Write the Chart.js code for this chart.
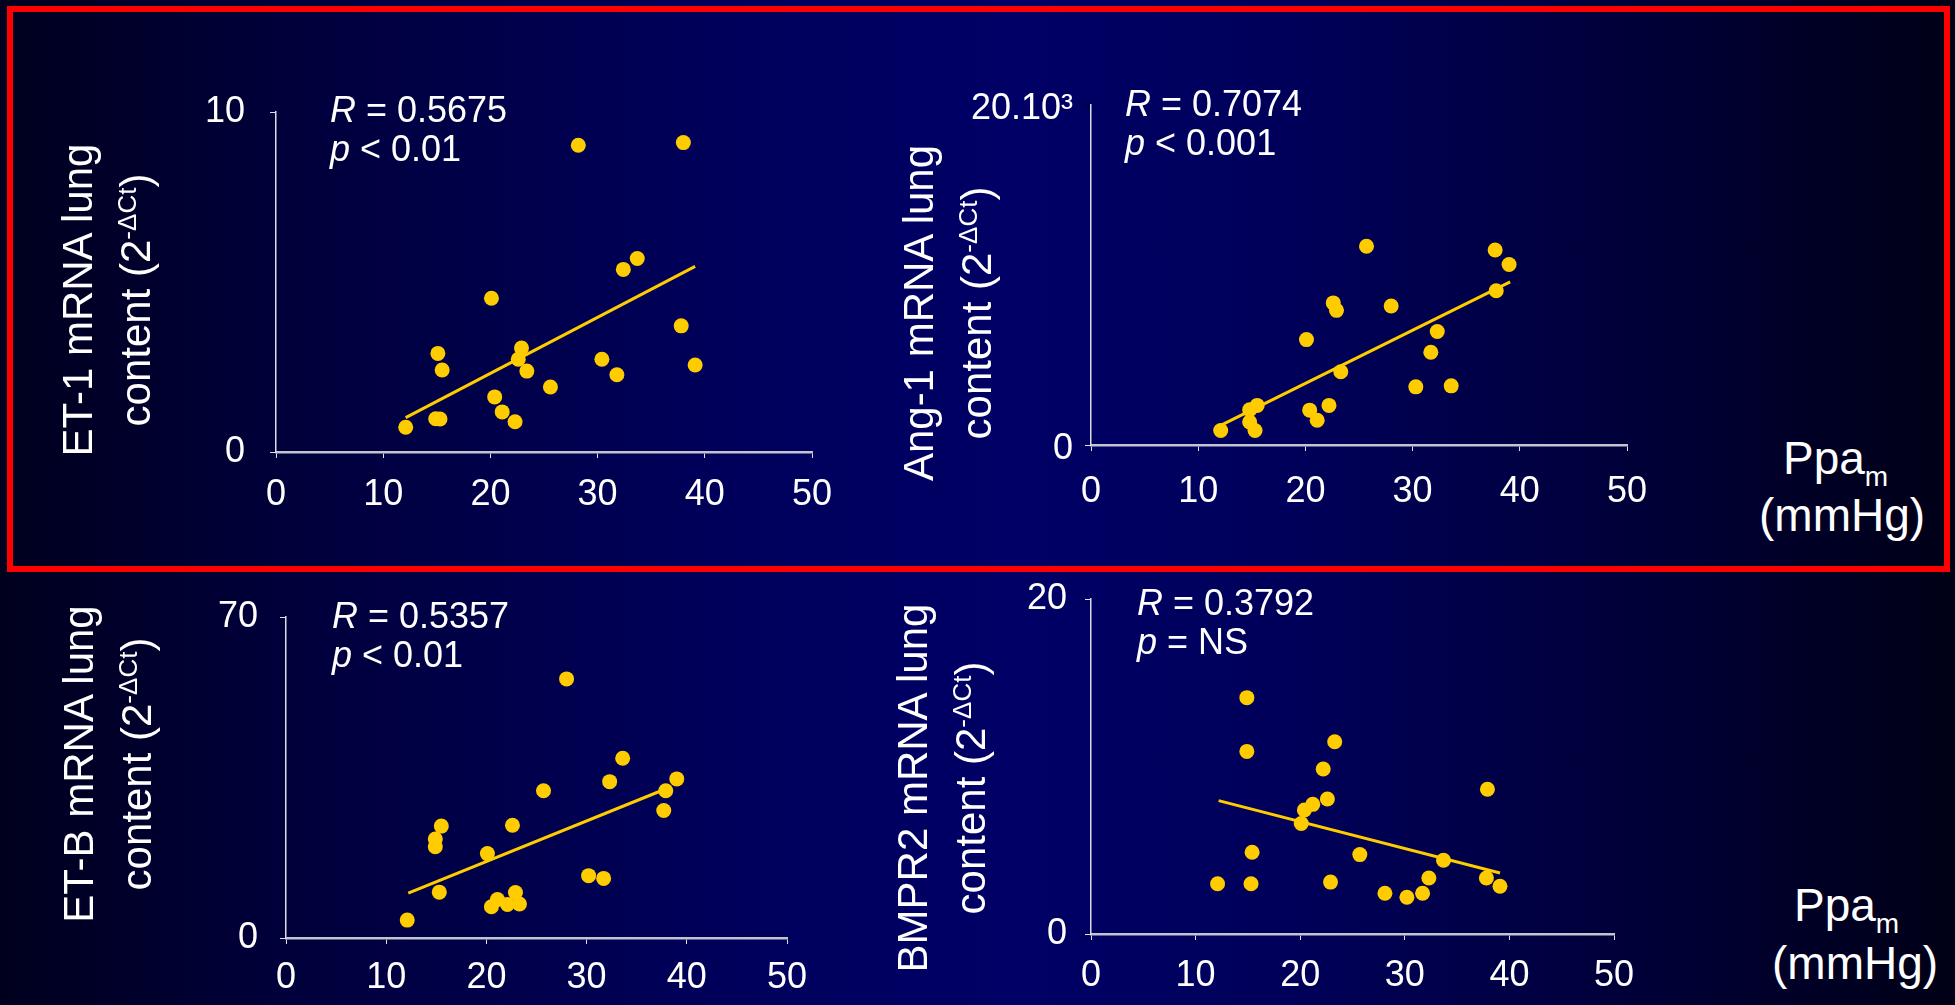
<!DOCTYPE html>
<html>
<head>
<meta charset="utf-8">
<title>mRNA lung content vs Ppam</title>
<script src="https://cdn.jsdelivr.net/npm/chart.js@4.4.1/dist/chart.umd.min.js"></script>
<style>
  html, body { margin: 0; padding: 0; }
  body {
    width: 1955px; height: 1005px; overflow: hidden; position: relative;
    background: linear-gradient(to right, #00001e 0%, #00003a 14%, #00005c 38%, #000066 52%, #00005a 66%, #000034 86%, #000016 100%);
    font-family: Arial, "Liberation Sans", sans-serif; color: #fff;
  }
  canvas { position: absolute; }
  .frame {
    position: absolute; left: 7px; top: 6px; width: 1943px; height: 566px;
    box-sizing: border-box; border: 6px solid #ff0000;
  }
  .ytitle {
    position: absolute; width: 460px; height: 116px;
    font-size: 42px; line-height: 58px; text-align: center; white-space: nowrap;
    transform: rotate(-90deg); transform-origin: 50% 50%;
  }
  .ytitle sup { font-size: 26px; vertical-align: 14px; line-height: 0; }
  .stats { position: absolute; font-size: 36px; line-height: 39px; white-space: nowrap; }
  .unit { position: absolute; font-size: 46px; line-height: 46px; white-space: nowrap; }
  .unit sub { font-size: 28px; vertical-align: -12px; line-height: 0; }
</style>
</head>
<body>
<div class="frame"></div>

<canvas id="et1Chart"></canvas>
<canvas id="ang1Chart"></canvas>
<canvas id="etbChart"></canvas>
<canvas id="bmpr2Chart"></canvas>

<div class="ytitle" style="left:-123px; top:242px;">ET-1 mRNA lung<br>content (2<sup>-&Delta;Ct</sup>)</div>
<div class="ytitle" style="left:718px; top:255px;">Ang-1 mRNA lung<br>content (2<sup>-&Delta;Ct</sup>)</div>
<div class="ytitle" style="left:-122px; top:706px;">ET-B mRNA lung<br>content (2<sup>-&Delta;Ct</sup>)</div>
<div class="ytitle" style="left:712px; top:730px;">BMPR2 mRNA lung<br>content (2<sup>-&Delta;Ct</sup>)</div>

<div class="stats" style="left:330px; top:90px;"><i>R</i> = 0.5675<br><i>p</i> &lt; 0.01</div>
<div class="stats" style="left:1125px; top:84px;"><i>R</i> = 0.7074<br><i>p</i> &lt; 0.001</div>
<div class="stats" style="left:332px; top:596px;"><i>R</i> = 0.5357<br><i>p</i> &lt; 0.01</div>
<div class="stats" style="left:1137px; top:583px;"><i>R</i> = 0.3792<br><i>p</i> = NS</div>

<div class="unit" style="left:1783px; top:435px;">Ppa<sub>m</sub></div>
<div class="unit" style="left:1759px; top:492px;">(mmHg)</div>
<div class="unit" style="left:1794px; top:882px;">Ppa<sub>m</sub></div>
<div class="unit" style="left:1772px; top:940px;">(mmHg)</div>

<script>
// Ppam (mmHg) on x, mRNA content on y, one array pair per panel
const xTicks = [0, 10, 20, 30, 40, 50];

const et1Ppa = [12.1, 14.9, 15.1, 15.3, 15.5, 20.1, 20.4, 21.1, 22.3, 22.6, 22.9, 23.4, 25.6, 28.2, 30.4, 31.8, 32.4, 33.7, 37.8, 38.0, 39.1];
const et1Values = [0.73, 0.98, 2.90, 0.97, 2.41, 4.52, 1.62, 1.18, 0.89, 2.73, 3.06, 2.38, 1.91, 9.02, 2.73, 2.27, 5.37, 5.69, 3.71, 9.10, 2.56];
const et1TrendX = [12.1, 39.1];
const et1TrendY = [1.01, 5.46];

const ang1Ppa = [12.1, 14.8, 14.8, 15.3, 15.5, 20.1, 20.4, 21.1, 22.2, 22.6, 22.9, 23.3, 25.7, 28.0, 30.3, 31.7, 32.3, 33.6, 37.7, 37.8, 39.0];
const ang1Values = [850, 2070, 1350, 850, 2330, 6200, 2050, 1460, 2330, 8360, 7920, 4310, 11690, 8180, 3420, 5460, 6680, 3480, 11470, 9070, 10620];
const ang1TrendX = [12.1, 39.1];
const ang1TrendY = [1150, 9600];

const etbPpa = [12.1, 14.9, 14.9, 15.3, 15.5, 20.1, 20.5, 21.1, 22.1, 22.6, 22.9, 23.3, 25.7, 28.0, 30.2, 31.7, 32.3, 33.6, 37.7, 37.9, 39.0];
const etbValues = [3.9, 21.6, 19.9, 10.0, 24.4, 18.4, 6.8, 8.4, 7.3, 24.6, 9.9, 7.4, 32.1, 56.5, 13.6, 13.0, 34.1, 39.2, 27.8, 32.1, 34.7];
const etbTrendX = [12.2, 38.0];
const etbTrendY = [9.8, 32.6];

const bmpr2Ppa = [12.1, 14.9, 14.9, 15.3, 15.4, 20.1, 20.4, 21.2, 22.2, 22.6, 22.9, 23.3, 25.7, 28.1, 30.2, 31.7, 32.3, 33.7, 37.8, 37.9, 39.1];
const bmpr2Values = [3.0, 14.11, 10.9, 3.0, 4.88, 6.6, 7.4, 7.74, 9.85, 8.06, 3.1, 11.48, 4.74, 2.43, 2.19, 2.43, 3.34, 4.4, 3.34, 8.64, 2.85];
const bmpr2TrendX = [12.2, 39.1];
const bmpr2TrendY = [7.96, 3.64];

const yMaxEt1 = 10;
const yMaxAng1 = 20000;
const yMaxEtb = 70;
const yMaxBmpr2 = 20;

const DOT = '#FFCC00';
const FONT = 'Arial, "Liberation Sans", sans-serif';

// space kept around each plot area inside its canvas
// (top/right must stay larger than the scales' own label padding)
const Y_W = 120;
const X_H = 80;
const PAD_T = 70;
const PAD_R = 60;

function toPoints(xs, ys) {
    return xs.map((x, i) => ({ x: x, y: ys[i] }));
}

function makeChart(id, area, ppa, values, trendX, trendY, yMax, opts) {
    const canvas = document.getElementById(id);
    const w = Y_W + (area.right - area.left) + PAD_R;
    const h = PAD_T + (area.bottom - area.top) + X_H;
    canvas.width = w;
    canvas.height = h;
    canvas.style.left = (area.left - Y_W) + 'px';
    canvas.style.top = (area.top - PAD_T) + 'px';
    canvas.style.width = w + 'px';
    canvas.style.height = h + 'px';

    return new Chart(canvas, {
        type: 'scatter',
        data: {
            datasets: [
                {
                    data: toPoints(ppa, values),
                    backgroundColor: DOT,
                    borderWidth: 0,
                    pointRadius: 7.5,
                    clip: false
                },
                {
                    type: 'line',
                    data: toPoints(trendX, trendY),
                    borderColor: DOT,
                    borderWidth: 3,
                    pointRadius: 0,
                    fill: false,
                    clip: false
                }
            ]
        },
        options: {
            responsive: false,
            animation: false,
            events: [],
            layout: { padding: { top: PAD_T, right: PAD_R, left: 0, bottom: 0 } },
            plugins: { legend: { display: false }, tooltip: { enabled: false } },
            scales: {
                x: {
                    type: 'linear',
                    min: xTicks[0],
                    max: xTicks[xTicks.length - 1],
                    afterBuildTicks: (s) => { s.ticks = xTicks.map(v => ({ value: v })); },
                    ticks: {
                        color: '#fff',
                        font: { size: 36, family: FONT },
                        padding: opts.xPad,
                        maxRotation: 0,
                        autoSkip: false
                    },
                    grid: { drawOnChartArea: false, drawTicks: true, tickLength: 6, color: '#e0e0e8', lineWidth: 1 },
                    border: { display: true, color: '#c4c4d0', width: 2.5 },
                    afterFit: (s) => { s.height = X_H; }
                },
                y: {
                    min: 0,
                    max: yMax,
                    ticks: {
                        stepSize: yMax,
                        color: '#fff',
                        font: { size: 36, family: FONT },
                        padding: opts.yPad,
                        labelOffset: opts.yShift || 0,
                        callback: opts.yLabel || ((v) => v)
                    },
                    grid: {
                        drawOnChartArea: false, drawTicks: true, tickLength: 6, lineWidth: 1,
                        tickColor: (ctx) => (opts.topTick && ctx.tick && ctx.tick.value === yMax) ? opts.topTick : '#e0e0e8'
                    },
                    border: { display: true, color: '#dcdce4', width: 1.5 },
                    afterFit: (s) => { s.width = Y_W; }
                }
            }
        }
    });
}

makeChart('et1Chart', { left: 276, right: 812, top: 112, bottom: 452 },
    et1Ppa, et1Values, et1TrendX, et1TrendY, yMaxEt1, { xPad: 15, yPad: 25 });

makeChart('ang1Chart', { left: 1091, right: 1627, top: 105, bottom: 445 },
    ang1Ppa, ang1Values, ang1TrendX, ang1TrendY, yMaxAng1,
    { xPad: 19, yPad: 12, yShift: 4, topTick: '#000', yLabel: (v) => v === yMaxAng1 ? '20.10\u00B3' : v });

makeChart('etbChart', { left: 286, right: 787, top: 617, bottom: 938 },
    etbPpa, etbValues, etbTrendX, etbTrendY, yMaxEtb, { xPad: 12, yPad: 22 });

makeChart('bmpr2Chart', { left: 1091, right: 1614, top: 599, bottom: 934 },
    bmpr2Ppa, bmpr2Values, bmpr2TrendX, bmpr2TrendY, yMaxBmpr2, { xPad: 14, yPad: 18 });
</script>
</body>
</html>
